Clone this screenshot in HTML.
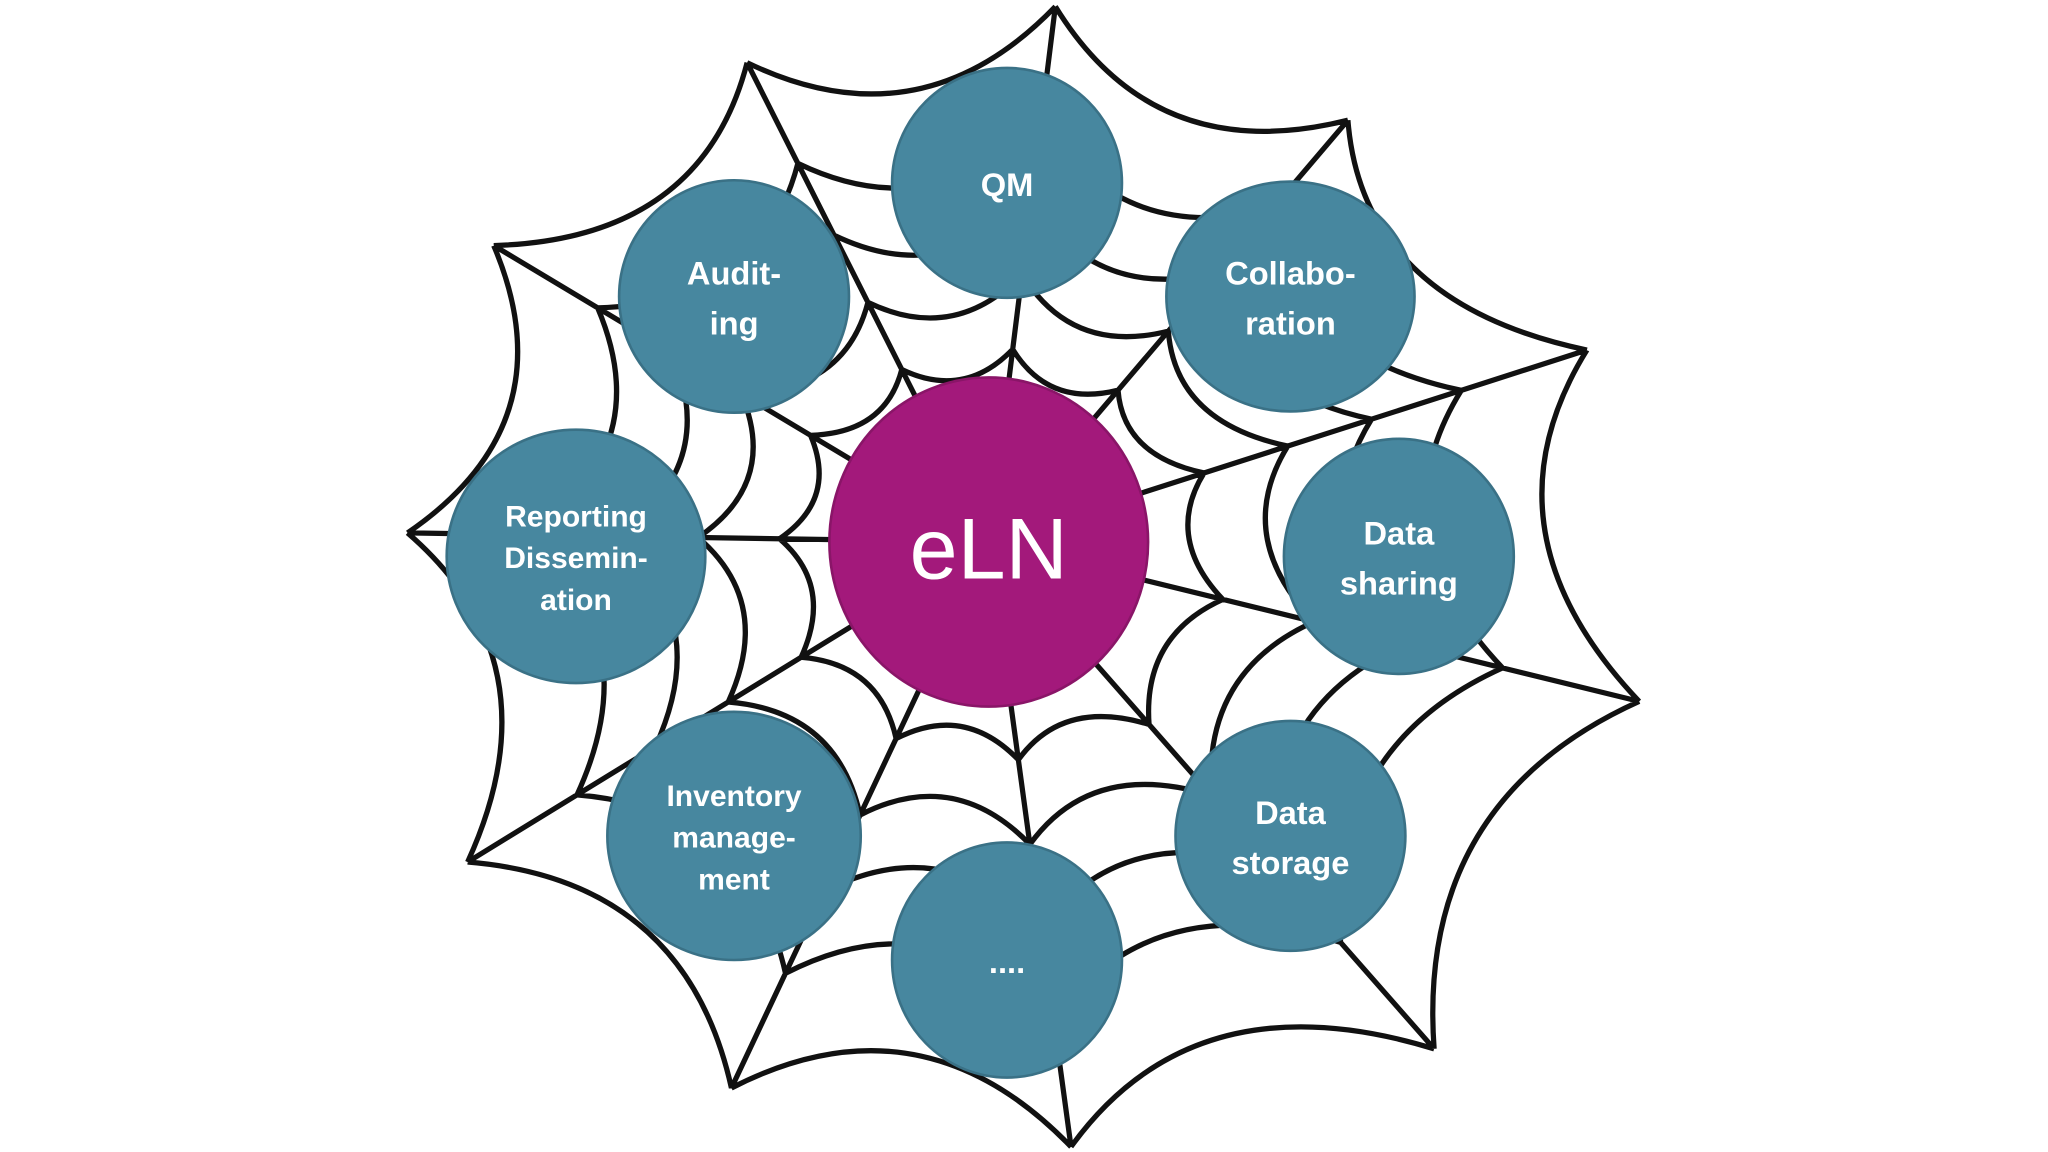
<!DOCTYPE html>
<html><head><meta charset="utf-8"><style>
html,body{margin:0;padding:0;background:#fff;width:2048px;height:1152px;overflow:hidden}
svg{display:block}
text{font-family:"Liberation Sans",sans-serif;fill:#fff;text-anchor:middle}
.b{font-weight:bold;font-size:25px}
</style></head><body>
<svg id="s" width="2048" height="1152" viewBox="0 0 1568 882" preserveAspectRatio="none">
<g id="web" fill="none" stroke="#111" stroke-width="4" stroke-linejoin="round"></g>
<g stroke="#3a7186" stroke-width="2" fill="#47879f">
<ellipse cx="771" cy="140" rx="88" ry="88"/>
<ellipse cx="562" cy="227" rx="88" ry="89"/>
<ellipse cx="988" cy="227" rx="95" ry="88"/>
<ellipse cx="1071" cy="426" rx="88" ry="90"/>
<ellipse cx="988" cy="640" rx="88" ry="88"/>
<ellipse cx="771" cy="735" rx="88" ry="90"/>
<ellipse cx="562" cy="640" rx="97" ry="95"/>
<ellipse cx="441" cy="426" rx="99" ry="97"/>
</g>
<ellipse cx="757" cy="415" rx="122" ry="126" fill="#a3197b" stroke="#8a1568" stroke-width="2"/>
<text x="757" y="443" style="font-size:66px">eLN</text>
<text class="b" x="771" y="150">QM</text>
<text class="b" x="562" y="218">Audit-</text>
<text class="b" x="562" y="256">ing</text>
<text class="b" x="988" y="218">Collabo-</text>
<text class="b" x="988" y="256">ration</text>
<text class="b" x="1071" y="417">Data</text>
<text class="b" x="1071" y="455">sharing</text>
<text class="b" x="988" y="631">Data</text>
<text class="b" x="988" y="669">storage</text>
<text class="b" x="771" y="745">....</text>
<text class="b" x="562" y="617" style="font-size:23px">Inventory</text>
<text class="b" x="562" y="649" style="font-size:23px">manage-</text>
<text class="b" x="562" y="681" style="font-size:23px">ment</text>
<text class="b" x="441" y="403" style="font-size:23px">Reporting</text>
<text class="b" x="441" y="435" style="font-size:23px">Dissemin-</text>
<text class="b" x="441" y="467" style="font-size:23px">ation</text>
</svg>
<script>
(function(){
var c=[757,415];
var v=[[808,5],[1032,92],[1215,268],[1255,537],[1098,803],[820,878],[560,833],[358,660],[312,408],[378,188],[572,48]];
var g=document.getElementById('web'),d='';
v.forEach(function(p){d+='M'+c[0]+' '+c[1]+'L'+p[0]+' '+p[1];});
var rings=[0.22,0.36,0.5,0.64,0.79,1.0];
rings.forEach(function(t){
 for(var i=0;i<v.length;i++){
  var a=v[i],b=v[(i+1)%v.length];
  var ax=c[0]+(a[0]-c[0])*t,ay=c[1]+(a[1]-c[1])*t;
  var bx=c[0]+(b[0]-c[0])*t,by=c[1]+(b[1]-c[1])*t;
  var mx=(ax+bx)/2,my=(ay+by)/2,k=0.78;
  var qx=c[0]+(mx-c[0])*k,qy=c[1]+(my-c[1])*k;
  d+='M'+ax+' '+ay+'Q'+qx+' '+qy+' '+bx+' '+by;
 }
});
var p=document.createElementNS('http://www.w3.org/2000/svg','path');
p.setAttribute('d',d);g.appendChild(p);
})();
</script>
</body></html>
